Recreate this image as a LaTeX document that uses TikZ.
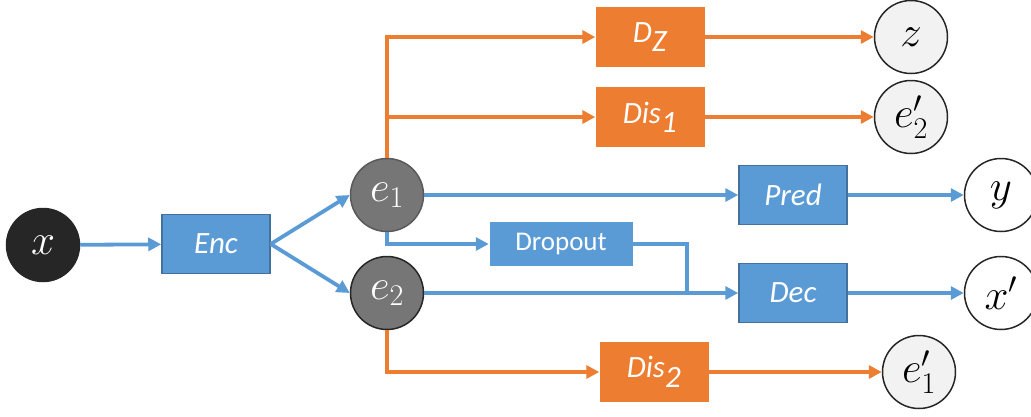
\RequirePackage{fix-cm}
\documentclass[tikz,border=0pt]{standalone}
\usepackage[no-math]{fontspec}
\setmainfont{Carlito}
\usepackage{tikz}
\usetikzlibrary{arrows.meta, positioning}

\definecolor{encblue}{HTML}{5B9BD5}
\definecolor{encedge}{HTML}{41719C}
\definecolor{advorange}{HTML}{ED7D31}
\definecolor{latgray}{HTML}{767676}
\definecolor{outgray}{HTML}{F2F2F2}
\definecolor{inkblack}{HTML}{262626}

\tikzset{
  netbox/.style={rectangle, fill=encblue, draw=encedge, line width=1.5pt,
    minimum width=108pt, minimum height=59pt, text=white,
    font=\fontsize{31}{33}\selectfont\itshape},
  advbox/.style={rectangle, fill=advorange, minimum width=109pt,
    minimum height=60pt, text=white, font=\fontsize{31}{33}\selectfont\itshape},
  var/.style={circle, minimum size=73pt, inner sep=0pt, draw=inkblack,
    line width=1.5pt, font=\fontsize{43}{45}\selectfont},
  blueflow/.style={draw=encblue, line width=3.8pt, -{Triangle[length=13pt,width=13pt]}},
  orangeflow/.style={draw=advorange, line width=3.8pt, -{Triangle[length=13pt,width=13pt]}}
}

\begin{document}
\begin{tikzpicture}[x=1pt, y=-1pt]
    \useasboundingbox (0,0) rectangle (1031,416);

    % Input and encoder
    \node[var, fill=inkblack, text=white] (x) at (43,245) {$x$};
    \node[netbox] (enc) at (216,244) {Enc};

    % Latent codes
    \node[var, fill=latgray, draw=black!65, text=white] (e1) at (387,195) {$e_1$};
    \node[var, fill=latgray, text=white] (e2) at (387,293) {$e_2$};

    % Blue branch
    \node[netbox, minimum width=143pt, minimum height=44pt, draw=none,
      font=\fontsize{27}{29}\selectfont] (drop) at (561,244) {Dropout};
    \node[netbox] (pred) at (793,195) {Pred};
    \node[netbox] (dec) at (793,293) {Dec};
    \node[var, fill=white] (y) at (1001,195) {$y$};
    \node[var, fill=white] (xr) at (1001,293) {$x'$};

    % Orange branch
    \node[advbox] (dz) at (650,37) {$\textit{D}_{\textit{Z}}$};
    \node[advbox] (dis1) at (650,117) {Dis$_{\textit{1}}$};
    \node[advbox] (dis2) at (654,372) {Dis$_{\textit{2}}$};
    \node[var, fill=outgray] (z) at (911,37) {$z$};
    \node[var, fill=outgray] (e2p) at (911,117) {$e'_2$};
    \node[var, fill=outgray] (e1p) at (919,372) {$e'_1$};

    \coordinate (join) at (687,293);

    % Blue connectors
    \draw[blueflow] (x) -- (enc);
    \draw[blueflow] (enc.east) -- (e1.west);
    \draw[blueflow] (enc.east) -- (e2.west);
    \draw[blueflow] (e1) -- (pred);
    \draw[blueflow] (e1.south) |- (drop.west);
    \draw[blueflow] (e2) -- (dec);
    \draw[draw=encblue, line width=3.8pt] (drop.east) -| (join);
    \draw[blueflow] (pred) -- (y);
    \draw[blueflow] (dec) -- (xr);

    % Orange connectors
    \draw[orangeflow] (e1.north) |- (dz.west);
    \draw[orangeflow] (e1.north |- dis1.west) -- (dis1.west);
    \draw[orangeflow] (e2.south) |- (dis2.west);
    \draw[orangeflow] (dz) -- (z);
    \draw[orangeflow] (dis1) -- (e2p);
    \draw[orangeflow] (dis2) -- (e1p);
\end{tikzpicture}
\end{document}
